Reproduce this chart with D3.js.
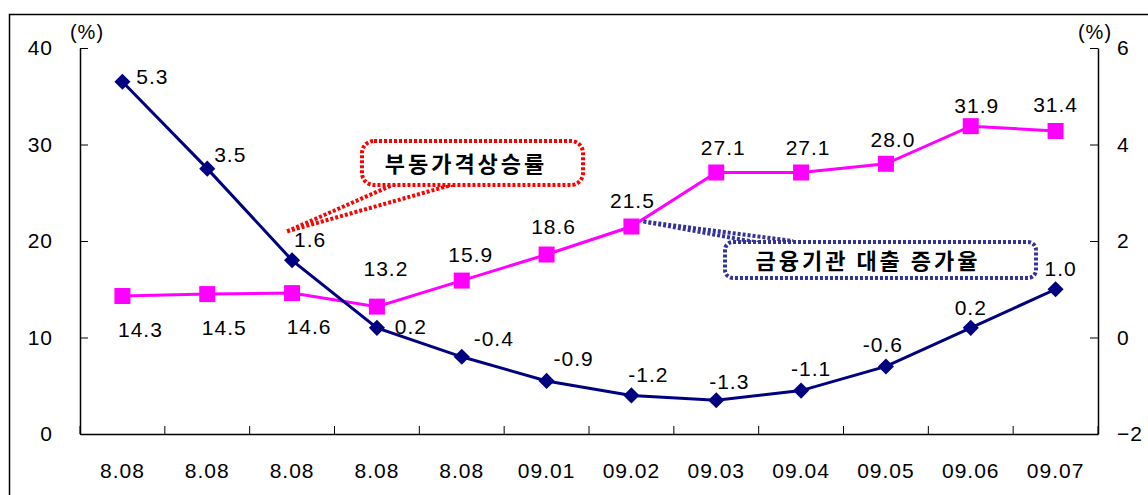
<!DOCTYPE html>
<html>
<head>
<meta charset="utf-8">
<script src="https://cdn.jsdelivr.net/npm/d3@7"></script>
<style>
body { margin: 0; background: #fff; }
text { font-family: "Liberation Sans", Arial, sans-serif; }
</style>
</head>
<body>
<svg id="chart" width="1148" height="495"></svg>
<script>
var months = ["8.08", "8.08", "8.08", "8.08", "8.08", "09.01", "09.02", "09.03", "09.04", "09.05", "09.06", "09.07"];
// 부동가격상승률 (left axis)
var priceRise = [14.3, 14.5, 14.6, 13.2, 15.9, 18.6, 21.5, 27.1, 27.1, 28.0, 31.9, 31.4];
// 금융기관 대출 증가율 (right axis)
var loanRise = [5.3, 3.5, 1.6, 0.2, -0.4, -0.9, -1.2, -1.3, -1.1, -0.6, 0.2, 1.0];
var leftTicks = [0, 10, 20, 30, 40];
var rightTicks = [-2, 0, 2, 4, 6];

var svg = d3.select("#chart");
var plotLeft = 80, plotRight = 1098, plotTop = 48, plotBottom = 434;

// outer frame
svg.append("rect")
    .attr("x", 9.5).attr("y", 14.5)
    .attr("width", 1200).attr("height", 600)
    .attr("fill", "none").attr("stroke", "#000").attr("stroke-width", 1.5);

var idx = d3.range(months.length);
var xScale = d3.scaleBand().domain(idx).range([plotLeft, plotRight]);
var yLeft = d3.scaleLinear().domain([0, 40]).range([plotBottom, plotTop]);
var yRight = d3.scaleLinear().domain([-2, 6]).range([plotBottom, plotTop]);
function cx(i) { return xScale(i) + xScale.bandwidth() / 2; }

function numText(sel) {
    sel.style("font-size", "21px").style("letter-spacing", "1px").attr("fill", "#000");
}

// axes
var xAxis = svg.append("g")
    .attr("transform", "translate(0," + plotBottom + ")")
    .call(d3.axisBottom(xScale).tickSizeInner(-8).tickSizeOuter(0)
        .tickFormat(function (i) { return months[i]; }));
xAxis.selectAll(".tick line").attr("transform", "translate(" + (-xScale.bandwidth() / 2) + ",0)");
xAxis.append("line").attr("x1", plotRight).attr("x2", plotRight).attr("y1", 0).attr("y2", -8).attr("stroke", "#000");
xAxis.selectAll("text").attr("y", 29).call(numText);

var yAxisL = svg.append("g")
    .attr("transform", "translate(" + plotLeft + ",0)")
    .call(d3.axisLeft(yLeft).tickValues(leftTicks).tickSizeInner(-8).tickSizeOuter(0));
yAxisL.selectAll("text").attr("x", -27).call(numText);

var yAxisR = svg.append("g")
    .attr("transform", "translate(" + plotRight + ",0)")
    .call(d3.axisRight(yRight).tickValues(rightTicks).tickSizeInner(-8).tickSizeOuter(0));
yAxisR.selectAll("text").attr("x", 19).call(numText);

svg.selectAll(".domain").attr("stroke", "#000").attr("stroke-width", 1.5);
svg.selectAll(".tick line").attr("stroke", "#000");

svg.append("text").attr("x", 87).attr("y", 39).attr("text-anchor", "middle")
    .style("font-size", "20px").style("letter-spacing", "1px").text("(%)");
svg.append("text").attr("x", 1095).attr("y", 39).attr("text-anchor", "middle")
    .style("font-size", "20px").style("letter-spacing", "1px").text("(%)");

// lines
var linePrice = d3.line().x(function (d, i) { return cx(i); }).y(function (d) { return yLeft(d); });
var lineLoan = d3.line().x(function (d, i) { return cx(i); }).y(function (d) { return yRight(d); });

svg.append("path").datum(priceRise).attr("d", linePrice)
    .attr("fill", "none").attr("stroke", "#ff00ff").attr("stroke-width", 3);
svg.append("path").datum(loanRise).attr("d", lineLoan)
    .attr("fill", "none").attr("stroke", "#000080").attr("stroke-width", 3);

svg.append("g").selectAll("rect").data(priceRise).enter().append("rect")
    .attr("x", function (d, i) { return cx(i) - 8; })
    .attr("y", function (d) { return yLeft(d) - 8; })
    .attr("width", 16).attr("height", 16)
    .attr("fill", "#ff00ff");

svg.append("g").selectAll("path").data(loanRise).enter().append("path")
    .attr("d", d3.symbol().type(d3.symbolSquare).size(130))
    .attr("transform", function (d, i) { return "translate(" + cx(i) + "," + yRight(d) + ") rotate(45)"; })
    .attr("fill", "#000080");

// value labels
var priceOff = [[18, 41], [17, 41], [17, 41], [9, -31], [9, -19], [7, -21], [1, -19], [7, -17], [7, -17], [7, -17], [6, -13], [0, -19]];
svg.append("g").selectAll("text").data(priceRise).enter().append("text")
    .attr("x", function (d, i) { return cx(i) + priceOff[i][0]; })
    .attr("y", function (d, i) { return yLeft(d) + priceOff[i][1]; })
    .attr("text-anchor", "middle").call(numText)
    .text(function (d) { return d.toFixed(1); });

var loanOff = [[30, 2], [23, -7], [18, -13], [34, 6], [32, -11], [27, -15], [17, -13], [13, -11], [10, -15], [-3, -14], [0, -13], [5, -13]];
svg.append("g").selectAll("text").data(loanRise).enter().append("text")
    .attr("x", function (d, i) { return cx(i) + loanOff[i][0]; })
    .attr("y", function (d, i) { return yRight(d) + loanOff[i][1]; })
    .attr("text-anchor", "middle").call(numText)
    .text(function (d) { return d.toFixed(1); });

// callouts
var redTipX = cx(2) - 5, redTipY = yLeft(21);
svg.append("path")
    .attr("d", "M" + redTipX + "," + redTipY + " L397,183 M" + redTipX + "," + redTipY + " L455,184")
    .attr("fill", "none").attr("stroke", "#ff0000").attr("stroke-width", 4).attr("stroke-dasharray", "3,2");
svg.append("rect").attr("x", 362).attr("y", 141).attr("width", 221).attr("height", 44).attr("rx", 12)
    .attr("fill", "#fff").attr("stroke", "#ff0000").attr("stroke-width", 4).attr("stroke-dasharray", "3,2");
svg.append("text").attr("x", 466).attr("y", 172).attr("text-anchor", "middle")
    .style("font-family", "'Noto Sans CJK KR', sans-serif").style("font-size", "22px").style("font-weight", "bold")
    .style("letter-spacing", "3px").text("부동가격상승률");

var blueTipX = cx(6) + 12, blueTipY = yLeft(21.5) - 5;
svg.append("path")
    .attr("d", "M" + blueTipX + "," + blueTipY + " L760,243 M" + blueTipX + "," + blueTipY + " L793,241")
    .attr("fill", "none").attr("stroke", "#333399").attr("stroke-width", 4).attr("stroke-dasharray", "3,2");
svg.append("rect").attr("x", 725).attr("y", 242).attr("width", 311).attr("height", 36).attr("rx", 8)
    .attr("fill", "#fff").attr("stroke", "#333399").attr("stroke-width", 4).attr("stroke-dasharray", "3,2");
svg.append("text").attr("x", 868).attr("y", 269).attr("text-anchor", "middle")
    .style("font-family", "'Noto Sans CJK KR', sans-serif").style("font-size", "22px").style("font-weight", "bold")
    .style("letter-spacing", "3px").text("금융기관 대출 증가율");
</script>
</body>
</html>
